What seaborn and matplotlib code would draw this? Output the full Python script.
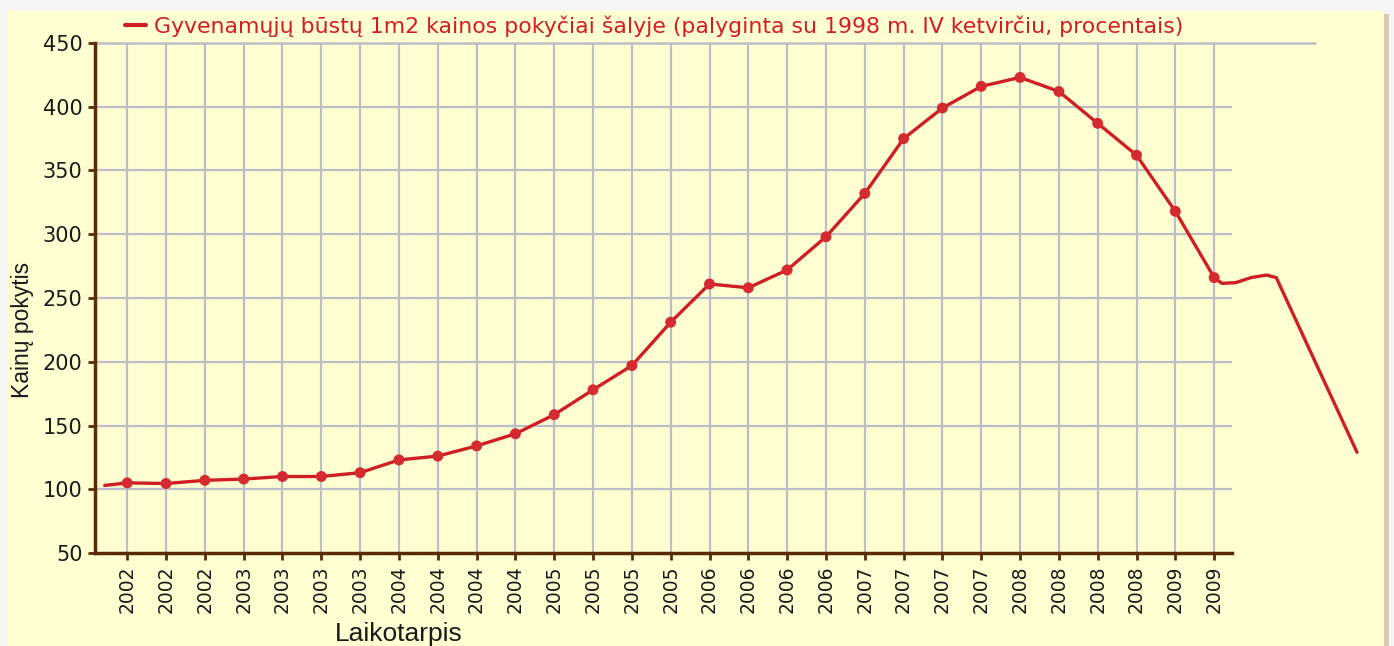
import matplotlib
matplotlib.use("Agg")
import matplotlib.pyplot as plt
import seaborn as sns
import pandas as pd
from matplotlib.lines import Line2D
from matplotlib.patches import Rectangle

# quarterly price index (1998 Q4 = 100)
periods = ['2002'] * 3 + ['2003'] * 4 + ['2004'] * 4 + ['2005'] * 4 + \
          ['2006'] * 4 + ['2007'] * 4 + ['2008'] * 4 + ['2009'] * 2
values = [105, 104.5, 107, 108, 110, 110, 113, 123, 126, 134, 143.5, 158.5,
          178, 197, 231, 261, 258, 272, 298, 332, 375, 399, 416, 423, 412,
          387, 362, 318, 266]

# line pieces drawn without markers before the first and after the last quarter
lead_x = [-0.58]
lead_y = [103]
tail_x = [28.2, 28.55, 28.95, 29.35, 29.6, 31.68]
tail_y = [261.5, 262, 266, 268, 266, 129]

legend_label = "Gyvenamųjų būstų 1m2 kainos pokyčiai šalyje (palyginta su 1998 m. IV ketvirčiu, procentais)"

df = pd.DataFrame({'idx': range(len(values)), 'value': values})
full = pd.DataFrame({'idx': lead_x + list(range(len(values))) + tail_x,
                     'value': lead_y + values + tail_y})

sns.set_style("white")
plt.rcParams['font.family'] = ['DejaVu Sans']

yellow = '#FFFFD2'
red = '#CF1F25'
brown = '#5A2A06'
grid_c = '#BDBDCA'

fig = plt.figure(figsize=(13.94, 6.46), dpi=100, facecolor='#F6F6F2')
fig.patches.append(Rectangle((8 / 1394, 0), 1376 / 1394, 1 - 11 / 646,
                             transform=fig.transFigure, facecolor=yellow,
                             edgecolor='none', zorder=-2))
fig.patches.append(Rectangle((1384 / 1394, 0), 5 / 1394, 1 - 14 / 646,
                             transform=fig.transFigure, facecolor='#D9C9B9',
                             edgecolor='none', zorder=-2))

ax = fig.add_axes([95 / 1394, 1 - 553 / 646, 1137 / 1394, 510 / 646])
ax.set_facecolor(yellow)

xmin, xmax = -0.83, 28.46
ax.set_xlim(xmin, xmax)
ax.set_ylim(50, 450)

# grid
for i in range(len(values)):
    ax.axvline(i, color=grid_c, lw=1.6, zorder=1)
for v in [100, 150, 200, 250, 300, 350, 400]:
    ax.axhline(v, color=grid_c, lw=1.6, zorder=1)
ax.axhline(450, xmin=0.0, xmax=(30.6 - xmin) / (xmax - xmin), color=grid_c,
           lw=1.8, zorder=1, clip_on=False)

sns.lineplot(data=full, x='idx', y='value', color=red, lw=2.4, sort=False,
             legend=False, ax=ax, zorder=3, clip_on=False)
sns.scatterplot(data=df, x='idx', y='value', color='#D42A30', s=62,
                edgecolor='none', legend=False, ax=ax, zorder=4)

ax.set_xticks(range(len(values)))
ax.set_xticklabels(periods, rotation=90, fontsize=13.5, color='#1A1A1A')
ax.set_yticks([50, 100, 150, 200, 250, 300, 350, 400, 450])
ax.tick_params(axis='y', labelsize=15, labelcolor='#1A1A1A')
ax.tick_params(axis='both', direction='out', length=5, width=2, color=brown,
               pad=4, left=True, bottom=True)

for s in ['top', 'right']:
    ax.spines[s].set_visible(False)
for s in ['left', 'bottom']:
    ax.spines[s].set_color(brown)
    ax.spines[s].set_linewidth(2.5)

ax.set_xlabel("Laikotarpis", family='Liberation Sans', fontsize=19,
              color='#1A1A1A', va='center')
ax.xaxis.set_label_coords(0.267, -0.159)
ax.set_ylabel("Kainų pokytis", family='Liberation Sans', fontsize=16.5,
              color='#1A1A1A', va='center')
ax.yaxis.set_label_coords(-0.064, 0.437)

handle = Line2D([], [], color=red, lw=3)
ax.legend([handle], [legend_label], loc='center left',
          bbox_to_anchor=(125 / 1394, 1 - 26 / 646), bbox_transform=fig.transFigure,
          frameon=False, fontsize=15.8, labelcolor='#D41C24',
          handlelength=0.95, handletextpad=0.35, borderpad=0, borderaxespad=0)

plt.savefig("out.png", dpi=100, facecolor=fig.get_facecolor())
